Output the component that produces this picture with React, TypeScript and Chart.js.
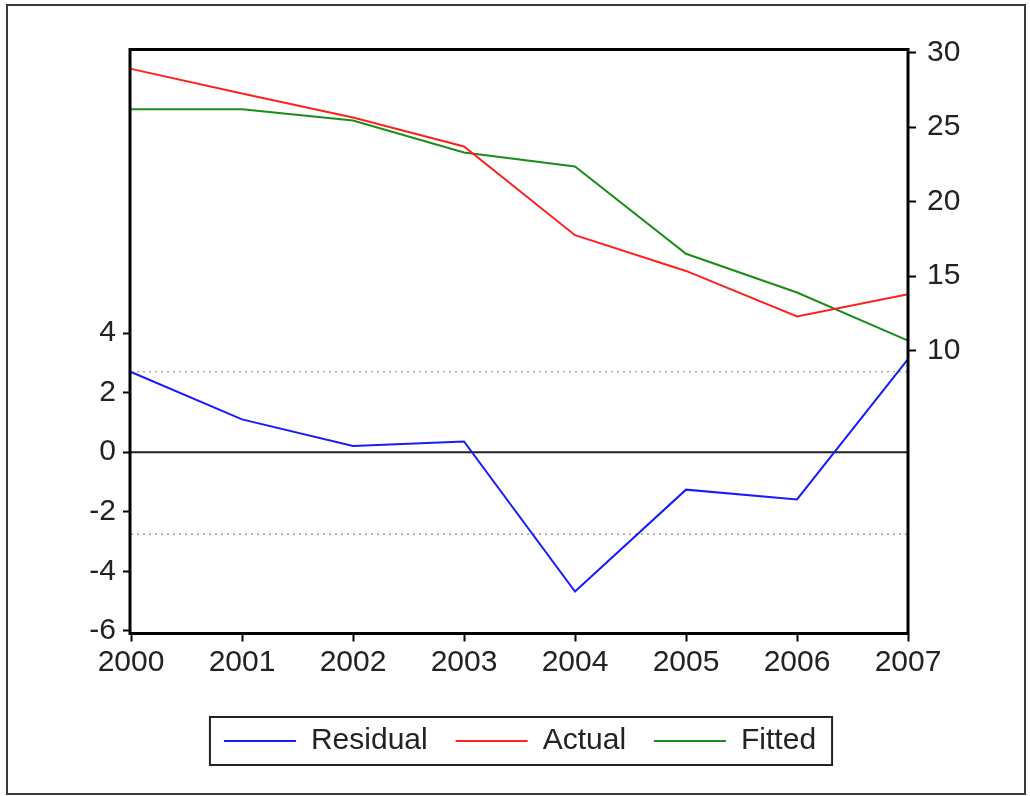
import React, { useEffect, useRef } from 'react';
import { Chart, registerables } from 'chart.js';

Chart.register(...registerables);

// ---- data ----
const years = ['2000', '2001', '2002', '2003', '2004', '2005', '2006', '2007'];
const residual = [2.69, 1.10, 0.21, 0.36, -4.68, -1.26, -1.59, 3.12];
const actual = [28.91, 27.26, 25.65, 23.70, 17.75, 15.35, 12.30, 13.78];
const fitted = [26.20, 26.20, 25.45, 23.30, 22.36, 16.50, 13.90, 10.67];
const seUpper = 2.70;
const seLower = -2.75;
const leftTicks = [-6, -4, -2, 0, 2, 4];
const rightTicks = [10, 15, 20, 25, 30];
const leftRange = [-6.09, 13.52];
const rightRange = [-8.98, 30.21];
const seriesNames = ['Residual', 'Actual', 'Fitted'];

const FONT = { family: "'Liberation Sans', Arial, sans-serif", size: 30 };
const TEXT = '#222';

const framePlugin = {
  id: 'framePlugin',
  afterDraw(chart: any) {
    const { ctx, chartArea } = chart;
    ctx.save();
    // outer frame
    ctx.strokeStyle = '#3a3a3a';
    ctx.lineWidth = 2;
    ctx.strokeRect(7, 5, 1018, 789);
    // plot border
    ctx.strokeStyle = '#000';
    ctx.lineWidth = 3;
    ctx.strokeRect(chartArea.left - 1, chartArea.top, chartArea.right - chartArea.left + 1, chartArea.bottom - chartArea.top);
    // legend border
    const hb = chart.legend && chart.legend.legendHitBoxes;
    if (hb && hb.length) {
      const first = hb[0];
      const last = hb[hb.length - 1];
      const x0 = first.left - 14;
      const x1 = last.left + last.width + 16;
      const cy = first.top + first.height / 2;
      ctx.strokeStyle = '#222';
      ctx.lineWidth = 2;
      ctx.strokeRect(x0, cy - 24, x1 - x0, 48);
    }
    ctx.restore();
  },
};

export default function App() {
  const ref = useRef<HTMLCanvasElement | null>(null);

  useEffect(() => {
    if (!ref.current) return;
    const mk = (n: number) => years.map(() => n);
    const chart = new Chart(ref.current, {
      type: 'line',
      data: {
        labels: years,
        datasets: [
          { label: seriesNames[0], data: residual, yAxisID: 'y', borderColor: '#1a1aff', backgroundColor: '#1a1aff', borderWidth: 2, pointRadius: 0, tension: 0, fill: false },
          { label: seriesNames[1], data: actual, yAxisID: 'y1', borderColor: '#ff2020', backgroundColor: '#ff2020', borderWidth: 2, pointRadius: 0, tension: 0, fill: false },
          { label: seriesNames[2], data: fitted, yAxisID: 'y1', borderColor: '#1c8c1c', backgroundColor: '#1c8c1c', borderWidth: 2, pointRadius: 0, tension: 0, fill: false },
          { label: 'zero', data: mk(0), yAxisID: 'y', borderColor: '#222', borderWidth: 2, pointRadius: 0, fill: false },
          { label: 'upper', data: mk(seUpper), yAxisID: 'y', borderColor: '#888', borderWidth: 1.2, borderDash: [2, 4], pointRadius: 0, fill: false },
          { label: 'lower', data: mk(seLower), yAxisID: 'y', borderColor: '#888', borderWidth: 1.2, borderDash: [2, 4], pointRadius: 0, fill: false },
        ],
      },
      options: {
        responsive: false,
        animation: false,
        devicePixelRatio: 1,
        layout: { padding: { top: 49.5, left: 20, right: 10, bottom: 30 } },
        plugins: {
          tooltip: { enabled: false },
          title: { display: false },
          legend: {
            position: 'bottom',
            labels: {
              font: FONT,
              color: TEXT,
              boxWidth: 72,
              boxHeight: 0,
              padding: 28,
              filter: (item: any) => item.datasetIndex < 3,
            },
          },
        },
        scales: {
          x: {
            type: 'category',
            offset: false,
            grid: { display: true, drawOnChartArea: false, drawTicks: true, tickLength: 8, tickWidth: 2, tickColor: '#000', color: '#000' },
            border: { display: false },
            ticks: { font: FONT, color: TEXT, padding: 3, autoSkip: false, maxRotation: 0, minRotation: 0 },
            afterFit: (s: any) => { s.height = 64.5; },
          },
          y: {
            type: 'linear',
            position: 'left',
            min: leftRange[0],
            max: leftRange[1],
            afterBuildTicks: (s: any) => { s.ticks = leftTicks.map((v) => ({ value: v })); },
            grid: { display: true, drawOnChartArea: false, drawTicks: true, tickLength: 8, tickWidth: 2, tickColor: '#000', color: '#000' },
            border: { display: false },
            ticks: { font: FONT, color: TEXT, padding: 7, callback: (v: any) => String(v) },
            afterFit: (s: any) => { s.width = 111; },
          },
          y1: {
            type: 'linear',
            position: 'right',
            min: rightRange[0],
            max: rightRange[1],
            afterBuildTicks: (s: any) => { s.ticks = rightTicks.map((v) => ({ value: v })); },
            grid: { display: true, drawOnChartArea: false, drawTicks: true, tickLength: 8, tickWidth: 2, tickColor: '#000', color: '#000' },
            border: { display: false },
            ticks: { font: FONT, color: TEXT, padding: 11, callback: (v: any) => String(v) },
            afterFit: (s: any) => { s.width = 112; },
          },
        },
      },
      plugins: [framePlugin],
    } as any);
    return () => chart.destroy();
  }, []);

  return (
    <div style={{ position: 'absolute', left: 0, top: 0, width: 1030, height: 796, background: '#fff' }}>
      <canvas ref={ref} width={1030} height={796} style={{ display: 'block', width: 1030, height: 796 }} />
    </div>
  );
}
